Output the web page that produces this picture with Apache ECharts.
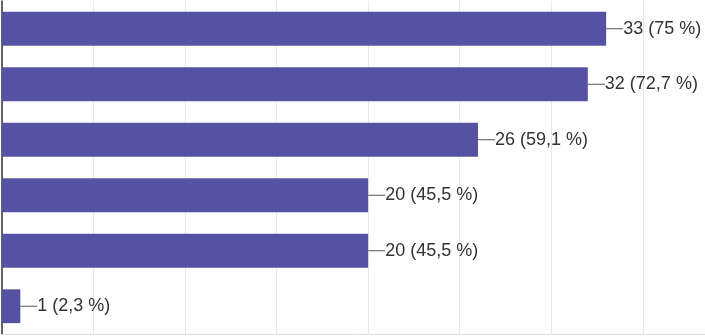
<!DOCTYPE html>
<html>
<head>
<meta charset="utf-8">
<script src="https://cdn.jsdelivr.net/npm/echarts@6/dist/echarts.min.js"></script>
<style>
  html, body { margin: 0; padding: 0; background: #fff; }
  #chart { width: 705px; height: 336px; }
</style>
</head>
<body>
<div id="chart"></div>
<script>
// answers (labels are cut off in the source picture)
var categories = ['a', 'b', 'c', 'd', 'e', 'f'];
var counts = [33, 32, 26, 20, 20, 1];
var percents = ['75', '72,7', '59,1', '45,5', '45,5', '2,3'];

var myChart = echarts.init(document.getElementById('chart'));
myChart.setOption({
    animation: false,
    grid: { left: 2, right: 0, top: 1, bottom: 2, containLabel: false },
    xAxis: {
        type: 'value',
        min: 0,
        max: 38.4, // picture is cropped on the right
        interval: 5,
        axisLabel: { show: false },
        axisTick: { show: false },
        axisLine: { show: true, lineStyle: { color: '#dcdcdc' } },
        splitLine: { show: true, lineStyle: { color: '#e9e9e9' } }
    },
    yAxis: {
        type: 'category',
        data: categories,
        inverse: true,
        axisLabel: { show: false },
        axisTick: { show: false },
        axisLine: { show: true, lineStyle: { color: '#333', width: 1.5 } }
    },
    series: [{
        type: 'bar',
        data: counts,
        barWidth: '61%',
        itemStyle: { color: '#5652a3' },
        label: {
            show: true,
            position: 'right',
            distance: 0,
            formatter: function (p) {
                return '{line|}{txt|' + p.value + ' (' + percents[p.dataIndex] + ' %)}';
            },
            rich: {
                line: { width: 17, height: 1, backgroundColor: '#555', verticalAlign: 'middle' },
                txt: { fontFamily: 'Liberation Sans, Arial', fontSize: 18, color: '#333', verticalAlign: 'middle' }
            }
        }
    }]
});
</script>
</body>
</html>
